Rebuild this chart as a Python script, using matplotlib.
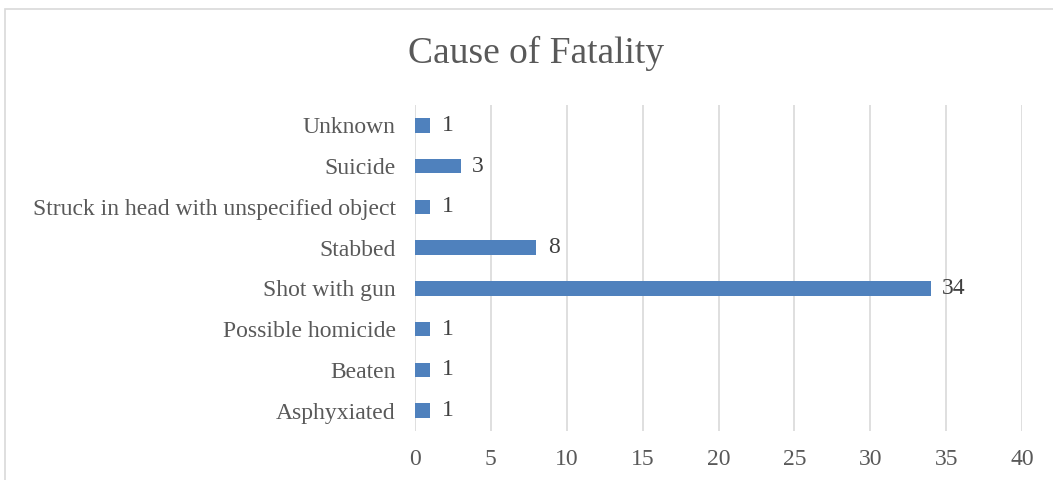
import matplotlib.pyplot as plt
from matplotlib.patches import Rectangle

categories = ['Asphyxiated', 'Beaten', 'Possible homicide', 'Shot with gun',
              'Stabbed', 'Struck in head with unspecified object', 'Suicide', 'Unknown']
counts = [1, 1, 1, 34, 8, 1, 3, 1]
xticks = [0, 5, 10, 15, 20, 25, 30, 35, 40]

plt.rcParams['font.family'] = ['Liberation Serif', 'DejaVu Serif']
text_color = '#595959'

fig = plt.figure(figsize=(10.53, 4.8), dpi=100)
fig.patches.append(Rectangle((5 / 1053, -0.1), 1.2, 1 - 9 / 480 + 0.1,
                             transform=fig.transFigure, fill=False,
                             edgecolor='#D9D9D9', linewidth=1.2))

ax = fig.add_axes([415 / 1053, 1 - 431 / 480, (1022 - 415) / 1053, (431 - 105) / 480])
ypos = range(len(categories))
ax.barh(ypos, counts, height=0.36, color='#4F81BD', zorder=3)
for y, v in zip(ypos, counts):
    ax.text(v + 0.75, y, str(v), va='center', ha='left', fontsize=17, color='#404040')

ax.set_xlim(0, 40)
ax.set_ylim(-0.5, len(categories) - 0.5)
ax.set_xticks(xticks)
ax.set_yticks(list(ypos))
ax.set_yticklabels(categories)
ax.tick_params(axis='both', length=0, labelsize=17, labelcolor=text_color)
ax.tick_params(axis='x', pad=13)
ax.tick_params(axis='y', pad=14)
ax.grid(axis='x', color='#D9D9D9', linewidth=1.2, zorder=0)
for s in ax.spines.values():
    s.set_visible(False)

fig.text(536 / 1053, 1 - 53 / 480, 'Cause of Fatality', ha='center', va='center',
         fontsize=27, color=text_color)

fig.savefig('out.png', dpi=100)
